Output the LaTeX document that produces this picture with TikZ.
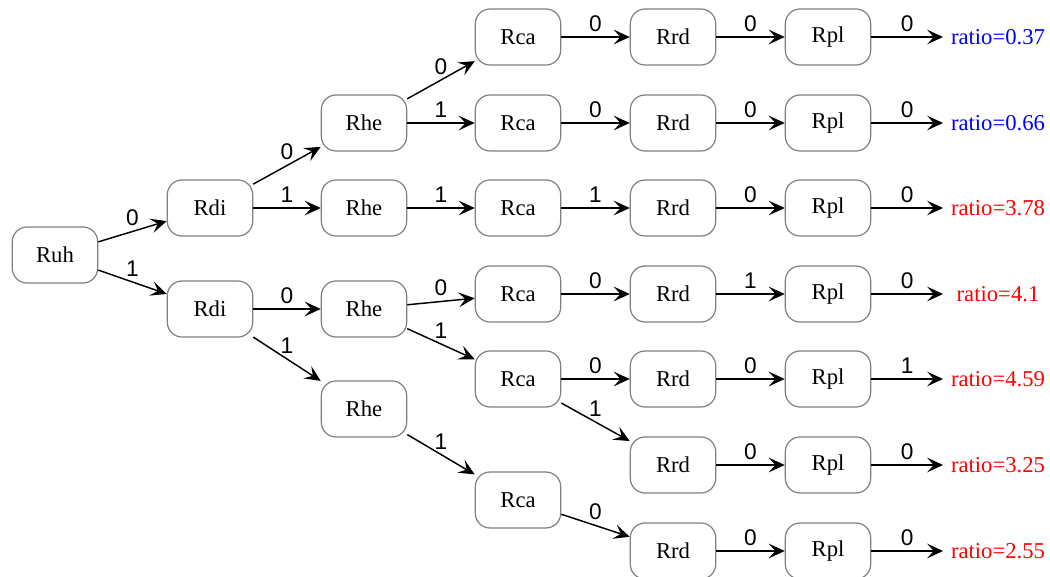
\documentclass[tikz,border=0pt]{standalone}
\usepackage{fontspec}
\setmainfont{Liberation Serif}
\newfontfamily\digitfont{Liberation Sans}
\usetikzlibrary{arrows.meta,positioning}

\begin{document}
\begin{tikzpicture}[x=0.75pt,y=-0.75pt,
        box/.style={draw=black!50, line width=0.9pt, rounded corners=11pt,
            minimum width=64pt, minimum height=42pt, font=\fontsize{17}{20}\selectfont},
        res/.style={minimum width=82pt, inner sep=0pt, font=\fontsize{17}{20}\selectfont},
        edge/.style={-{Stealth[length=12pt,width=11pt,inset=5pt]}, line width=1.1pt},
        lab/.style={midway, above, inner sep=3.5pt, font=\digitfont\fontsize{17}{20}\selectfont}]
        \useasboundingbox (0,0) rectangle (1050,577);
        % Root and first split
        \node[box] (ruh) at (55,255) {Ruh};
        \node[box] (rdi1) at (210,208) {Rdi};
        \node[box] (rdi2) at (210,309) {Rdi};
        \node[box] (rhe1) at (364,123) {Rhe};
        \node[box] (rhe2) at (364,208) {Rhe};
        \node[box] (rhe3) at (364,309) {Rhe};
        \node[box] (rhe4) at (364,409) {Rhe};
        % Rca column
        \node[box] (rca1) at (518,37) {Rca};
        \node[box] (rca2) at (518,123) {Rca};
        \node[box] (rca3) at (518,208) {Rca};
        \node[box] (rca4) at (518,294) {Rca};
        \node[box] (rca5) at (518,379) {Rca};
        \node[box] (rca6) at (518,500) {Rca};
        % Rrd column
        \node[box] (rrd1) at (673,37) {Rrd};
        \node[box] (rrd2) at (673,123) {Rrd};
        \node[box] (rrd3) at (673,208) {Rrd};
        \node[box] (rrd4) at (673,294) {Rrd};
        \node[box] (rrd5) at (673,379) {Rrd};
        \node[box] (rrd6) at (673,465) {Rrd};
        \node[box] (rrd7) at (673,551) {Rrd};
        % Rpl column
        \node[box] (rpl1) at (828,37) {Rpl};
        \node[box] (rpl2) at (828,123) {Rpl};
        \node[box] (rpl3) at (828,208) {Rpl};
        \node[box] (rpl4) at (828,294) {Rpl};
        \node[box] (rpl5) at (828,379) {Rpl};
        \node[box] (rpl6) at (828,465) {Rpl};
        \node[box] (rpl7) at (828,551) {Rpl};
        % Results
        \node[res, text=blue] (out1) at (998,37) {ratio=0.37};
        \node[res, text=blue] (out2) at (998,123) {ratio=0.66};
        \node[res, text=red] (out3) at (998,208) {ratio=3.78};
        \node[res, text=red] (out4) at (998,294) {ratio=4.1};
        \node[res, text=red] (out5) at (998,379) {ratio=4.59};
        \node[res, text=red] (out6) at (998,465) {ratio=3.25};
        \node[res, text=red] (out7) at (998,551) {ratio=2.55};
        % Tree edges
        \draw[edge] (ruh) -- (rdi1) node[lab]{0};
        \draw[edge] (ruh) -- (rdi2) node[lab]{1};
        \draw[edge] (rdi1) -- (rhe1) node[lab]{0};
        \draw[edge] (rdi1) -- (rhe2) node[lab]{1};
        \draw[edge] (rdi2) -- (rhe3) node[lab]{0};
        \draw[edge] (rdi2) -- (rhe4) node[lab]{1};
        \draw[edge] (rhe1) -- (rca1) node[lab]{0};
        \draw[edge] (rhe1) -- (rca2) node[lab]{1};
        \draw[edge] (rhe2) -- (rca3) node[lab]{1};
        \draw[edge] (rhe3) -- (rca4) node[lab]{0};
        \draw[edge] (rhe3) -- (rca5) node[lab]{1};
        \draw[edge] (rhe4) -- (rca6) node[lab]{1};
        \draw[edge] (rca1) -- (rrd1) node[lab]{0};
        \draw[edge] (rca2) -- (rrd2) node[lab]{0};
        \draw[edge] (rca3) -- (rrd3) node[lab]{1};
        \draw[edge] (rca4) -- (rrd4) node[lab]{0};
        \draw[edge] (rca5) -- (rrd5) node[lab]{0};
        \draw[edge] (rca5) -- (rrd6) node[lab]{1};
        \draw[edge] (rca6) -- (rrd7) node[lab]{0};
        \draw[edge] (rrd1) -- (rpl1) node[lab]{0};
        \draw[edge] (rrd2) -- (rpl2) node[lab]{0};
        \draw[edge] (rrd3) -- (rpl3) node[lab]{0};
        \draw[edge] (rrd4) -- (rpl4) node[lab]{1};
        \draw[edge] (rrd5) -- (rpl5) node[lab]{0};
        \draw[edge] (rrd6) -- (rpl6) node[lab]{0};
        \draw[edge] (rrd7) -- (rpl7) node[lab]{0};
        \draw[edge] (rpl1) -- (out1) node[lab]{0};
        \draw[edge] (rpl2) -- (out2) node[lab]{0};
        \draw[edge] (rpl3) -- (out3) node[lab]{0};
        \draw[edge] (rpl4) -- (out4) node[lab]{0};
        \draw[edge] (rpl5) -- (out5) node[lab]{1};
        \draw[edge] (rpl6) -- (out6) node[lab]{0};
        \draw[edge] (rpl7) -- (out7) node[lab]{0};
\end{tikzpicture}
\end{document}
